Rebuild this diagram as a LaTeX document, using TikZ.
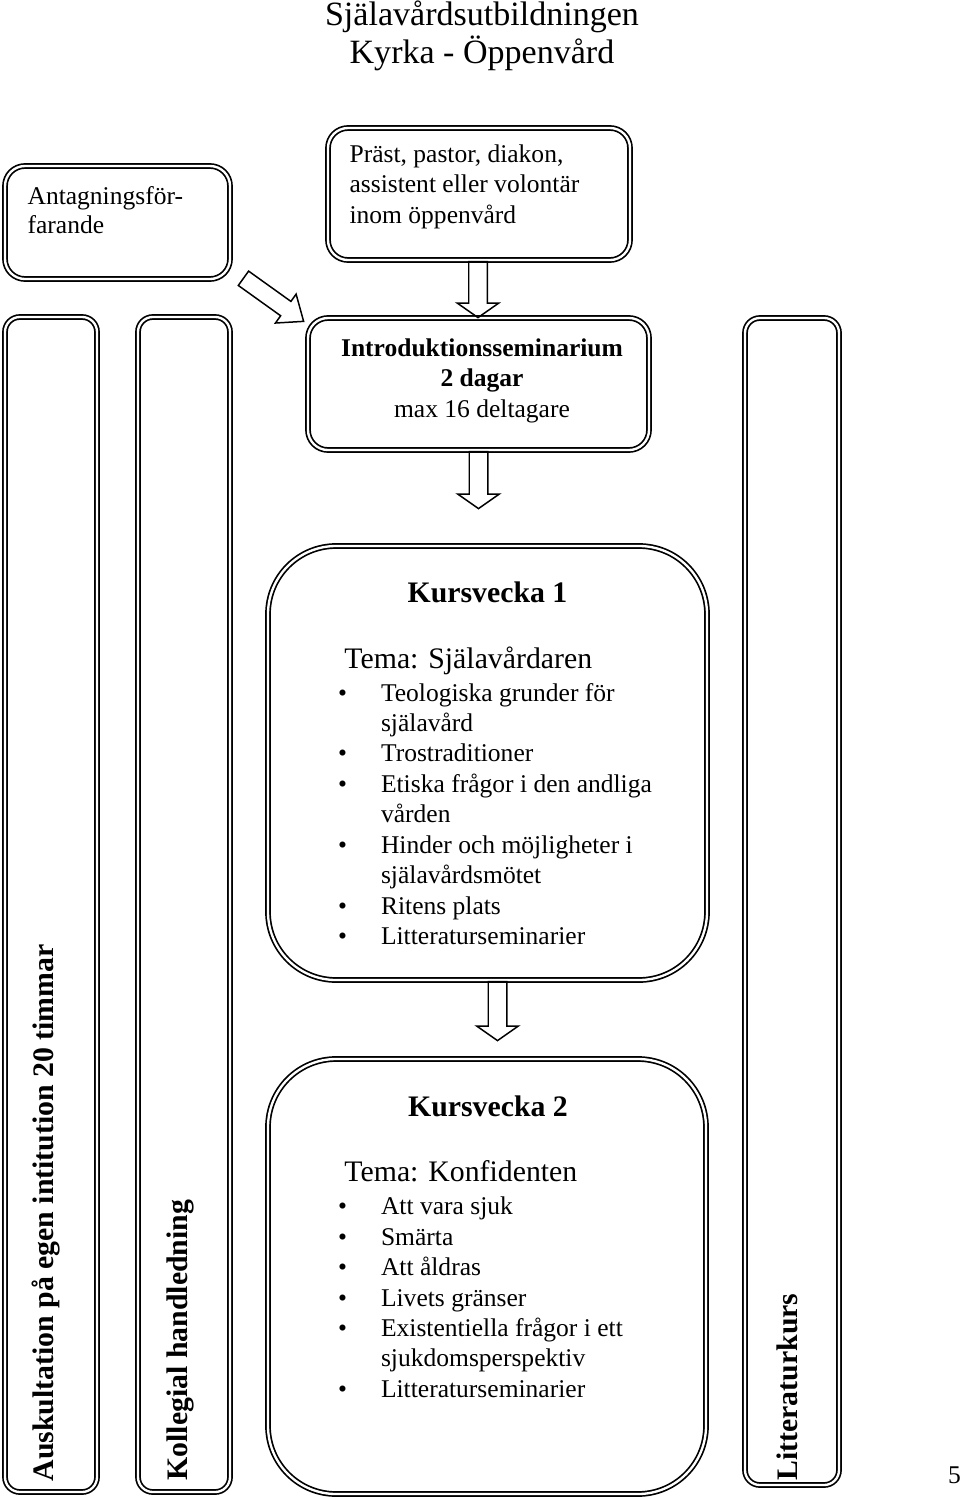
\documentclass[tikz,border=0pt]{standalone}
\usepackage{fontspec}
\setmainfont{Liberation Serif}
\usepackage{tikz}
\usetikzlibrary{shapes.arrows,calc}

\newcommand{\pxl}{0.47pt}
\newcommand{\bodyfont}{\fontsize{12pt}{14.3pt}\selectfont}
\newcommand{\temafont}{\fontsize{14pt}{16.1pt}\selectfont}
\newcommand{\titlefont}{\fontsize{16pt}{17.9pt}\selectfont}
\newcommand{\bull}{\textbullet}

\tikzset{
	dblbox/.style={draw, double, line width=0.8pt, double distance=1.1pt, rounded corners=9.4pt, inner sep=0pt},
	barbox/.style={dblbox, rounded corners=7pt},
	kursbox/.style={dblbox, rounded corners=32pt},
	txt/.style={inner sep=0pt, font=\bodyfont},
	vtxt/.style={inner sep=0pt, font=\temafont\bfseries, rotate=90, anchor=west},
	blockarr/.style={single arrow, draw, line width=0.7pt, inner xsep=0pt, inner ysep=4pt, single arrow head extend=5.4pt, single arrow tip angle=110, anchor=tail},
}

\begin{document}
\begin{tikzpicture}[x=0.47pt,y=0.47pt,yscale=-1,xscale=1]
		\useasboundingbox (0,0) rectangle (960,1499);
		
		% Text Node
		\node[txt, font=\titlefont, align=center] (title) at (482,36) {Själavårdsutbildningen\\Kyrka - Öppenvård};
		
		%Shape: Rounded Rect [id:antag]
		\node[dblbox, minimum width=225*\pxl, minimum height=113*\pxl] (antag) at (117.5,222.5) {};
		%Shape: Rounded Rect [id:praest]
		\node[dblbox, minimum width=302*\pxl, minimum height=132*\pxl] (praest) at (479,194) {};
		%Shape: Rounded Rect [id:intro]
		\node[dblbox, minimum width=341*\pxl, minimum height=132*\pxl] (intro) at (478.5,384) {};
		%Shape: Rounded Rect [id:kv1]
		\node[kursbox, minimum width=439*\pxl, minimum height=434*\pxl] (kv1) at (487.5,763) {};
		%Shape: Rounded Rect [id:kv2]
		\node[kursbox, minimum width=438*\pxl, minimum height=435*\pxl] (kv2) at (487,1276.5) {};
		%Shape: Rounded Rect [id:auskult]
		\node[barbox, minimum width=92*\pxl, minimum height=1175*\pxl] (auskult) at (51,904.5) {};
		%Shape: Rounded Rect [id:kollegial]
		\node[barbox, minimum width=92*\pxl, minimum height=1175*\pxl] (kollegial) at (184,904.5) {};
		%Shape: Rounded Rect [id:littkurs]
		\node[barbox, minimum width=94*\pxl, minimum height=1167*\pxl] (littkurs) at (792,901.5) {};
		
		%Block Arrows
		\node[blockarr, rotate=-90, minimum height=56*\pxl] (pil1) at ($(praest.south)+(-1,0)$) {};
		\node[blockarr, rotate=-90, minimum height=57*\pxl] (pil2) at (intro.south) {};
		\node[blockarr, rotate=-90, minimum height=59*\pxl] (pil3) at ($(kv1.south)+(10,0)$) {};
		\node[blockarr, rotate=-35.6, inner ysep=3.8pt, single arrow head extend=4.2pt, single arrow tip angle=78, minimum height=74*\pxl] (pil0) at ($(antag.south east)+(12,-2)$) {};
		
		% Text Node
		\node[txt, anchor=north west, align=left, font=\fontsize{12pt}{13.6pt}\selectfont] (antag-t) at ($(antag.north west)+(23,21)$) {Antagningsför-\\farande};
		% Text Node
		\node[txt, anchor=north west, align=left] (praest-t) at ($(praest.north west)+(22,17)$) {Präst, pastor, diakon,\\assistent eller volontär\\inom öppenvård};
		% Text Node
		\node[txt, anchor=north, align=center] (intro-t) at ($(intro.north)+(3.5,21)$) {\textbf{Introduktionsseminarium}\\\textbf{2 dagar}\\max 16 deltagare};
		
		% Text Node
		\node[txt, font=\temafont\bfseries] (kv1-h) at ($(kv1.north)+(0,47)$) {Kursvecka 1};
		% Text Node
		\node[txt, anchor=north west] (kv1-t) at ($(kv1.north west)+(70.5,101)$) {%
			\begin{tabular}{@{}p{20.2pt}@{}l@{}}
				\multicolumn{2}{@{\hspace{3pt}}l@{}}{\temafont Tema: Själavårdaren}\\[1.2pt]
				\bull & Teologiska grunder för\\
				& själavård\\
				\bull & Trostraditioner\\
				\bull & Etiska frågor i den andliga\\
				& vården\\
				\bull & Hinder och möjligheter i\\
				& själavårdsmötet\\
				\bull & Ritens plats\\
				\bull & Litteraturseminarier
		\end{tabular}};
		
		% Text Node
		\node[txt, font=\temafont\bfseries] (kv2-h) at ($(kv2.north)+(1,48)$) {Kursvecka 2};
		% Text Node
		\node[txt, anchor=north west] (kv2-t) at ($(kv2.north west)+(70.5,102)$) {%
			\begin{tabular}{@{}p{20.2pt}@{}l@{}}
				\multicolumn{2}{@{\hspace{3pt}}l@{}}{\temafont Tema: Konfidenten}\\[1.2pt]
				\bull & Att vara sjuk\\
				\bull & Smärta\\
				\bull & Att åldras\\
				\bull & Livets gränser\\
				\bull & Existentiella frågor i ett\\
				& sjukdomsperspektiv\\
				\bull & Litteraturseminarier
		\end{tabular}};
		
		% Text Node
		\node[vtxt] (auskult-t) at ($(auskult.south)+(-5,-11)$) {Auskultation på egen intitution 20 timmar};
		% Text Node
		\node[vtxt] (kollegial-t) at ($(kollegial.south)+(-4,-12)$) {Kollegial handledning};
		% Text Node
		\node[vtxt] (littkurs-t) at ($(littkurs.south)+(-5,-5)$) {Litteraturkurs};
		
		% Text Node
		\node[txt] (sida) at (954.5,1475) {5};
		
\end{tikzpicture}
\end{document}
